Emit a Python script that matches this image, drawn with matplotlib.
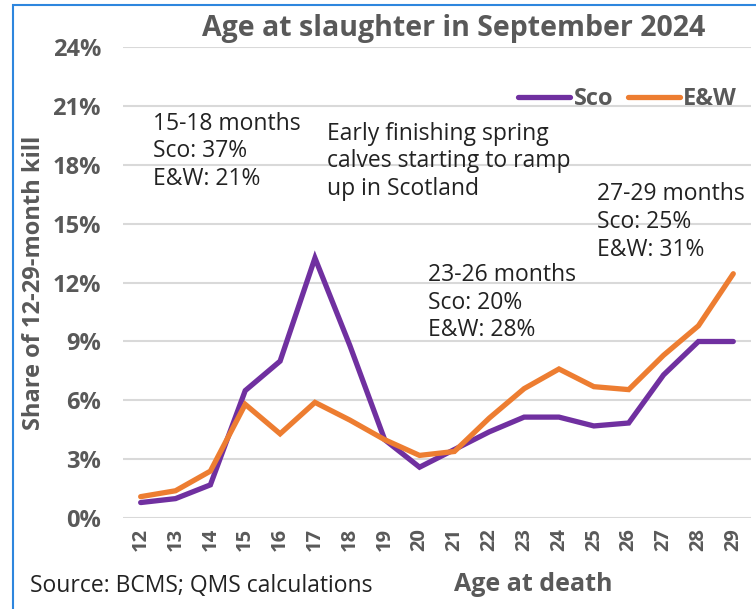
import matplotlib
matplotlib.use("Agg")
import matplotlib.pyplot as plt
from matplotlib.patches import Rectangle

# age at death (months)
ages = list(range(12, 30))
# share of 12-29-month kill (%)
sco = [0.8, 1.0, 1.7, 6.5, 8.0, 13.25, 8.8, 4.0, 2.6, 3.5, 4.4, 5.15, 5.15, 4.7, 4.85, 7.3, 9.0, 9.0]
ew = [1.1, 1.4, 2.4, 5.8, 4.3, 5.9, 5.0, 4.0, 3.2, 3.4, 5.1, 6.6, 7.6, 6.7, 6.55, 8.3, 9.8, 12.45]
yticks = [0, 3, 6, 9, 12, 15, 18, 21, 24]

grey = '#595959'
purple = '#7030A0'
orange = '#ED7D31'
plt.rcParams['font.family'] = ['Open Sans', 'DejaVu Sans']

fig = plt.figure(figsize=(7.56, 6.09), dpi=100)
ax = fig.add_axes([0.163, 0.149, 0.83, 0.774])

ax.plot(ages, sco, color=purple, lw=3.8, label='Sco', solid_capstyle='round', solid_joinstyle='miter')
ax.plot(ages, ew, color=orange, lw=3.8, label='E&W', solid_capstyle='round', solid_joinstyle='miter')

ax.set_ylim(0, 24)
ax.set_xlim(11.5, 29.5)
ax.set_yticks(yticks)
ax.set_yticklabels([f'{v}%' for v in yticks], fontsize=17, fontweight='bold', color=grey)
ax.set_xticks(ages)
ax.set_xticklabels([str(a) for a in ages], rotation=90, fontsize=14.5, fontweight='bold', color=grey)
ax.tick_params(axis='both', length=0)
ax.tick_params(axis='y', pad=16)
ax.tick_params(axis='x', pad=7)
ax.grid(axis='y', color='#d9d9d9', lw=1.5)
ax.set_axisbelow(True)
for s in ax.spines.values():
    s.set_visible(False)

fig.text(0.045, 0.535, 'Share of 12-29-month kill', rotation=90, ha='center', va='center',
         fontsize=17, fontweight='bold', color=grey)
fig.text(0.705, 0.04, 'Age at death', ha='center', va='center',
         fontsize=18, fontweight='bold', color=grey)

fig.text(0.6, 0.954, 'Age at slaughter in September 2024', ha='center', va='center',
         fontsize=20.5, fontweight='bold', color=grey)
fig.text(0.04, 0.037, 'Source: BCMS; QMS calculations', ha='left', va='center',
         fontsize=16.5, color='#222222')

leg = ax.legend(loc='upper right', ncol=2, frameon=False, bbox_to_anchor=(1.012, 0.96),
                prop={'weight': 'bold', 'size': 17}, handlelength=2.2, handletextpad=0.15,
                columnspacing=0.6)
for t in leg.get_texts():
    t.set_color(grey)

note = dict(fontsize=16.5, color='#222222', va='top', ha='left', linespacing=1.2)
ax.text(12.35, 20.7, '15-18 months\nSco: 37%\nE&W: 21%', **note)
ax.text(17.35, 20.2, 'Early finishing spring\ncalves starting to ramp\nup in Scotland', **note)
ax.text(20.25, 13.0, '23-26 months\nSco: 20%\nE&W: 28%', **note)
ax.text(25.1, 17.1, '27-29 months\nSco: 25%\nE&W: 31%', **note)

fig.patches.append(Rectangle((13 / 756, -0.05), 1.0, 1 - 5 / 609 + 0.05, transform=fig.transFigure,
                             fill=False, edgecolor='#2E86DE', lw=1.5))

fig.savefig('out.png', dpi=100)
